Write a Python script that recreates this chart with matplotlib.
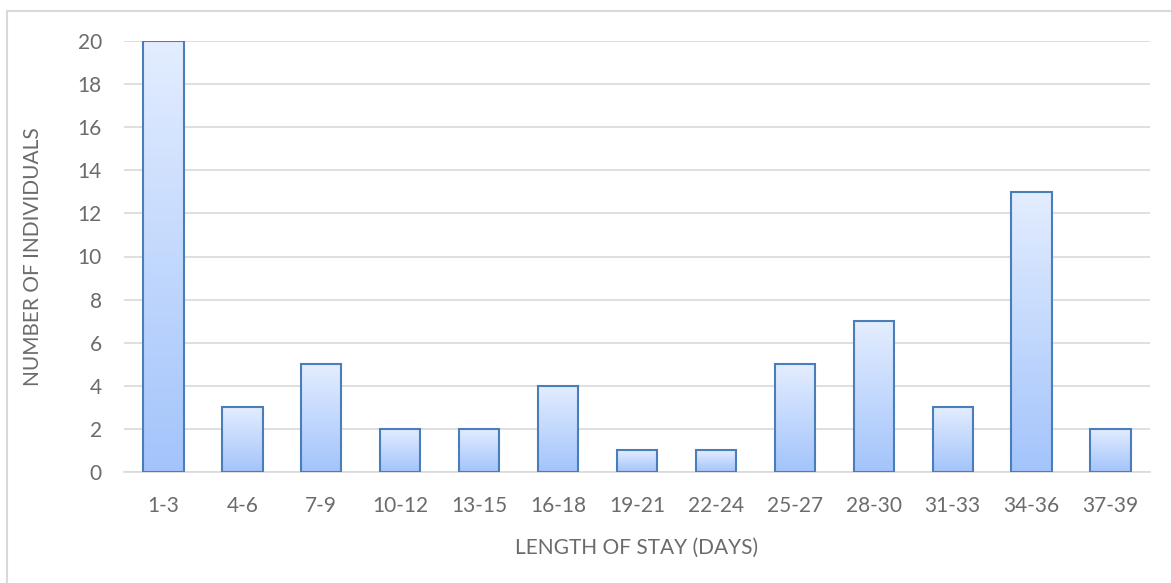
import matplotlib
matplotlib.use("Agg")
import matplotlib.pyplot as plt
import numpy as np
from matplotlib.colors import LinearSegmentedColormap
from matplotlib.patches import Rectangle

categories = ["1-3", "4-6", "7-9", "10-12", "13-15", "16-18", "19-21",
              "22-24", "25-27", "28-30", "31-33", "34-36", "37-39"]
counts = [20, 3, 5, 2, 2, 4, 1, 1, 5, 7, 3, 13, 2]
yticks = [0, 2, 4, 6, 8, 10, 12, 14, 16, 18, 20]

plt.rcParams['font.family'] = ['Lato', 'DejaVu Sans']
text_color = "#6b6b6b"

fig = plt.figure(figsize=(11.71, 5.83), dpi=100)
ax = fig.add_axes([124/1171, 1 - 472/583, (1150-124)/1171, (472-41)/583])

# outer border (only top and left edges fall inside the image)
fig.patches.append(Rectangle((7/1171, -10/583), (1190-7)/1171, (572+10)/583,
                             transform=fig.transFigure, fill=False,
                             edgecolor="#d9d9d9", linewidth=1.5, zorder=0))

x = np.arange(len(categories))
bars = ax.bar(x, counts, width=0.51, facecolor="none",
              edgecolor="#4a7ebb", linewidth=1.5, zorder=3)

cmap = LinearSegmentedColormap.from_list("g", ["#a3c4fb", "#e3edff"])
grad = np.linspace(0, 1, 256).reshape(-1, 1)
for b in bars:
    x0, y0 = b.get_x(), b.get_y()
    w, h = b.get_width(), b.get_height()
    ax.imshow(grad, extent=(x0, x0 + w, y0, y0 + h), origin="lower",
              cmap=cmap, aspect="auto", zorder=2, interpolation="bilinear")

ax.set_xlim(-0.5, len(categories) - 0.5)
ax.set_ylim(0, 20)
ax.set_yticks(yticks)
ax.set_xticks(x)
ax.set_xticklabels(categories)
ax.yaxis.grid(True, color="#d9d9d9", linewidth=1.2, zorder=0)
ax.set_axisbelow(True)
for s in ["top", "right", "left"]:
    ax.spines[s].set_visible(False)
ax.spines["bottom"].set_color("#d9d9d9")
ax.spines["bottom"].set_linewidth(1.2)
ax.tick_params(axis="both", length=0, labelsize=15, colors=text_color)
ax.tick_params(axis="y", pad=16)
ax.tick_params(axis="x", pad=17)
ax.set_xlabel("LENGTH OF STAY (DAYS)", fontsize=15, color=text_color, labelpad=16)
ax.set_ylabel("NUMBER OF INDIVIDUALS", fontsize=15, color=text_color, labelpad=25)

fig.savefig("out.png", dpi=100)
